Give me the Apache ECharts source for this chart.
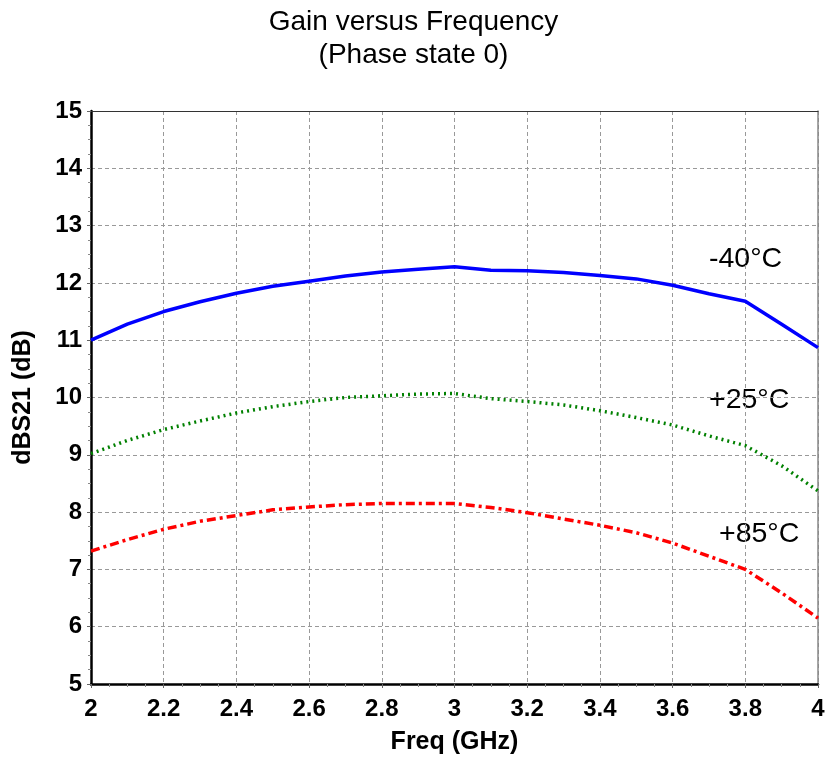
<!DOCTYPE html>
<html>
<head>
<meta charset="utf-8">
<script src="https://cdn.jsdelivr.net/npm/echarts@6/dist/echarts.min.js"></script>
<style>html,body{margin:0;padding:0;background:#fff}#c{width:827px;height:758px}</style>
</head>
<body>
<div id="c"></div>
<script>
const freq = [2.0,2.1,2.2,2.3,2.4,2.5,2.6,2.7,2.8,2.9,3.0,3.1,3.2,3.3,3.4,3.5,3.6,3.7,3.8,3.9,4.0];
const gainM40 = [11.00,11.28,11.50,11.67,11.82,11.94,12.03,12.12,12.19,12.24,12.28,12.22,12.21,12.18,12.13,12.07,11.96,11.81,11.68,11.28,10.87];
const gainP25 = [9.02,9.25,9.44,9.59,9.73,9.84,9.93,10.00,10.03,10.06,10.07,9.98,9.93,9.87,9.77,9.65,9.52,9.33,9.16,8.81,8.37];
const gainP85 = [7.32,7.52,7.70,7.84,7.94,8.04,8.09,8.13,8.15,8.15,8.15,8.08,7.99,7.88,7.77,7.64,7.46,7.23,7.00,6.59,6.15];
const labels = ['-40°C','+25°C','+85°C'];

const pair = (ys) => freq.map((x,i)=>[x,ys[i]]);
const chart = echarts.init(document.getElementById('c'));
const font = 'Liberation Sans, Arial, sans-serif';
const tickStyle = {show:true,inside:false,length:4,lineStyle:{color:'#666'}};
const minorStyle = {show:true,splitNumber:4,length:3,lineStyle:{color:'#888'}};
chart.setOption({
  animation:false,
  textStyle:{fontFamily:font},
  title:{text:'Gain versus Frequency\n(Phase state 0)',left:'center',top:1,
    textStyle:{fontFamily:font,fontSize:28,fontWeight:'normal',color:'#000',lineHeight:33}},
  grid:{left:91,right:9,top:111,bottom:74,containLabel:false,outerBoundsMode:'none'},
  xAxis:[{type:'value',min:2,max:4,interval:0.2,
    name:'Freq (GHz)',nameLocation:'middle',nameGap:46,
    nameTextStyle:{fontFamily:font,fontSize:25,fontWeight:'bold',color:'#000'},
    axisLine:{lineStyle:{color:'#000',width:2.5}},
    axisTick:tickStyle,
    minorTick:minorStyle,
    axisLabel:{fontFamily:font,fontSize:24,fontWeight:'bold',color:'#000',margin:13,
      formatter:v=>String(Math.round(v*10)/10)},
    splitLine:{show:true,lineStyle:{color:'#999',type:[4,3],width:1}}
  },{type:'value',min:2,max:4,interval:0.2,position:'top',
    axisLine:{show:true,lineStyle:{color:'#333',width:1}},
    axisTick:{show:false},axisLabel:{show:false},splitLine:{show:false}
  }],
  yAxis:[{type:'value',min:5,max:15,interval:1,
    name:'dBS21 (dB)',nameLocation:'middle',nameGap:55,
    nameTextStyle:{fontFamily:font,fontSize:25,fontWeight:'bold',color:'#000'},
    axisLine:{show:true,lineStyle:{color:'#000',width:2.5}},
    axisTick:tickStyle,
    minorTick:minorStyle,
    axisLabel:{fontFamily:font,fontSize:24,fontWeight:'bold',color:'#000',margin:9},
    splitLine:{show:true,lineStyle:{color:'#999',type:[4,3],width:1}}
  },{type:'value',min:5,max:15,interval:1,position:'right',
    axisLine:{show:true,lineStyle:{color:'#888',width:1.5}},
    axisTick:{show:false},axisLabel:{show:false},splitLine:{show:false}
  }],
  series:[
    {type:'line',data:pair(gainM40),showSymbol:false,smooth:false,
      lineStyle:{color:'#0000ff',width:3.5,type:'solid'}},
    {type:'line',data:pair(gainP25),showSymbol:false,
      lineStyle:{color:'#008000',width:3.5,type:[2,4]}},
    {type:'line',data:pair(gainP85),showSymbol:false,
      lineStyle:{color:'#ff0000',width:3.5,type:[9,4,3,4]}}
  ],
  graphic:[
    {type:'text',x:709,y:259,style:{text:labels[0],fontFamily:font,fontSize:28.5,fill:'#000',verticalAlign:'middle'}},
    {type:'text',x:709,y:400,style:{text:labels[1],fontFamily:font,fontSize:28.5,fill:'#000',verticalAlign:'middle'}},
    {type:'text',x:719,y:534,style:{text:labels[2],fontFamily:font,fontSize:28.5,fill:'#000',verticalAlign:'middle'}}
  ]
});
</script>
</body>
</html>
